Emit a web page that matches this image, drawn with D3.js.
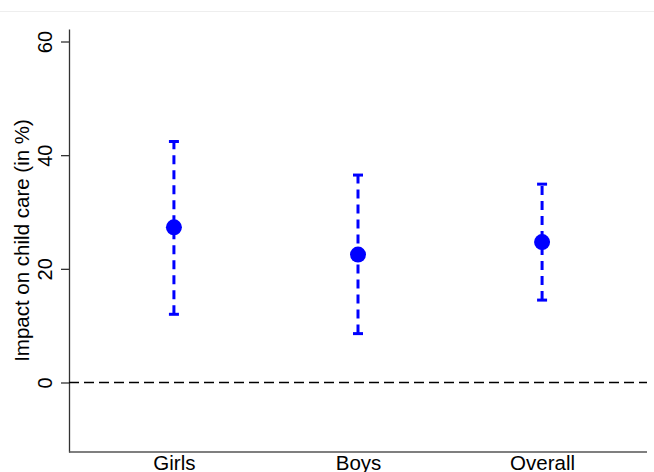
<!DOCTYPE html>
<html>
<head>
<meta charset="utf-8">
<script src="https://cdn.jsdelivr.net/npm/d3@7"></script>
<style>
  body { margin: 0; background: #fff; }
  text { font-family: "Liberation Sans", Arial, Helvetica, sans-serif; }
</style>
</head>
<body>
<svg id="chart" width="654" height="472"></svg>
<script>
// Data
const groups = ['Girls', 'Boys', 'Overall'];
const estimate = [27.3, 22.5, 24.7];
const lower = [12.0, 8.6, 14.5];
const upper = [42.4, 36.5, 34.9];
const yTicks = [0, 20, 40, 60];

const svg = d3.select('#chart');
const W = 654, H = 472;
const m = { l: 69, r: 7, t: 29, b: 20 }; // plot region edges

// faint frame line at top
svg.append('line')
  .attr('x1', 0).attr('x2', W).attr('y1', 11.5).attr('y2', 11.5)
  .attr('stroke', '#eeeeee').attr('stroke-width', 1);

const x = d3.scalePoint()
  .domain(groups)
  .range([m.l, W - m.r])
  .padding(0.57);

const y = d3.scaleLinear()
  .domain([-12.23, 62.2])
  .range([H - m.b, m.t]);

// y axis
const yAxis = svg.append('g')
  .attr('transform', `translate(${m.l},0)`)
  .call(d3.axisLeft(y).tickValues(yTicks).tickSize(8).tickSizeOuter(0));
yAxis.select('.domain').attr('stroke', '#333').attr('stroke-width', 1.3);
yAxis.selectAll('.tick line').attr('stroke', '#333').attr('stroke-width', 1.3);
yAxis.selectAll('.tick text')
  .attr('transform', 'rotate(-90)')
  .attr('x', 0).attr('y', -17)
  .attr('dy', 0)
  .attr('text-anchor', 'middle')
  .attr('fill', '#000')
  .style('font-size', '20px');

// x axis (no tick marks)
const xAxis = svg.append('g')
  .attr('transform', `translate(0,${H - m.b})`)
  .call(d3.axisBottom(x).tickSize(0).tickSizeOuter(0));
xAxis.select('.domain').attr('stroke', '#555').attr('stroke-width', 1.5)
  .attr('d', `M${m.l},0H${W - m.r}`);
xAxis.selectAll('.tick text')
  .attr('y', 18).attr('dy', 0)
  .attr('fill', '#000')
  .style('font-size', '20.5px');

// y axis title
svg.append('text')
  .attr('transform', `translate(29,${(y(-12.23) + y(62.2)) / 2}) rotate(-90)`)
  .attr('text-anchor', 'middle')
  .style('font-size', '20.5px')
  .text('Impact on child care (in %)');

// zero reference line
svg.append('line')
  .attr('x1', m.l).attr('x2', W - m.r)
  .attr('y1', y(0)).attr('y2', y(0))
  .attr('stroke', '#000').attr('stroke-width', 1.5)
  .attr('stroke-dasharray', '10,5');

// confidence intervals
const rows = groups.map((g, i) => ({ g, est: estimate[i], lo: lower[i], hi: upper[i] }));
const blue = '#0000ff';
const ci = svg.append('g').selectAll('g').data(rows).join('g');
ci.append('line')
  .attr('x1', d => x(d.g)).attr('x2', d => x(d.g))
  .attr('y1', d => y(d.lo)).attr('y2', d => y(d.hi))
  .attr('stroke', blue).attr('stroke-width', 3)
  .attr('stroke-dasharray', '9,6');
ci.append('line')
  .attr('x1', d => x(d.g) - 5).attr('x2', d => x(d.g) + 5)
  .attr('y1', d => y(d.hi)).attr('y2', d => y(d.hi))
  .attr('stroke', blue).attr('stroke-width', 3);
ci.append('line')
  .attr('x1', d => x(d.g) - 5).attr('x2', d => x(d.g) + 5)
  .attr('y1', d => y(d.lo)).attr('y2', d => y(d.lo))
  .attr('stroke', blue).attr('stroke-width', 3);
ci.append('circle')
  .attr('cx', d => x(d.g)).attr('cy', d => y(d.est))
  .attr('r', 8)
  .attr('fill', blue);
</script>
</body>
</html>
